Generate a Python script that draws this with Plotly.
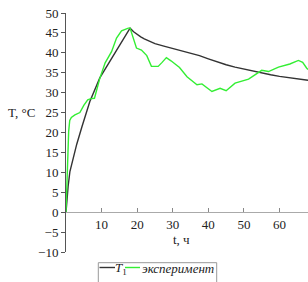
import plotly.graph_objects as go

# Model curve T1
t_model = [0, 0.3, 0.6, 1.1, 2, 3, 4.5, 6.7, 9.5, 13.2, 15.5, 18, 19, 20, 21, 22, 23.5, 25, 27.5, 30, 32.5, 35, 37.5, 40, 42.5, 45, 47.5, 50, 52.5, 55, 57.5, 60, 62.5, 65, 68]
T_model = [0, 3.5, 6.5, 10.2, 13.5, 17, 21.5, 27.8, 33.7, 39.3, 42.7, 46.2, 45.3, 44.6, 44.0, 43.5, 42.9, 42.3, 41.7, 41.1, 40.6, 40.0, 39.3, 38.5, 37.7, 37.0, 36.4, 35.9, 35.4, 34.9, 34.5, 34.1, 33.8, 33.5, 33.1]

# Experiment
t_exp = [0, 0.35, 0.75, 1.05, 1.5, 2.5, 3.9, 5.0, 6.1, 7.0, 8.0, 9.5, 11.0, 12.8, 14.2, 15.6, 16.8, 17.5, 18.0, 19.0, 19.8, 21.2, 22.7, 24.0, 25.9, 27.0, 28.2, 29.5, 31.9, 34.0, 36.8, 38.2, 41.0, 43.3, 45.0, 47.5, 51.3, 55.0, 56.9, 59.7, 62.9, 65.3, 66.5, 67.6, 68]
T_exp = [0, 10, 20.3, 23.0, 23.8, 24.4, 25.0, 26.8, 28.2, 28.5, 28.6, 33.6, 37.5, 40.3, 43.7, 45.5, 46.0, 46.2, 46.2, 43.5, 41.2, 40.7, 39.3, 36.6, 36.6, 37.6, 38.8, 38.0, 36.3, 34.0, 32.0, 32.2, 30.3, 31.1, 30.5, 32.4, 33.4, 35.6, 35.3, 36.4, 37.2, 38.1, 37.6, 36.2, 35.8]

x_ticks = [10, 20, 30, 40, 50, 60]
y_ticks = [-10, -5, 0, 5, 10, 15, 20, 25, 30, 35, 40, 45, 50]

W, H = 308, 282
L, R, T, B = 66, 0, 13, 30
pw, ph = W - L - R, H - T - B

def px(x):
    return (x - L) / pw

def py(y):
    return (H - B - y) / ph

black = "#333333"
green = "#33ee33"
font = "'Liberation Serif', 'Times New Roman', 'DejaVu Serif', serif"

fig = go.Figure()
fig.add_trace(go.Scatter(x=t_model, y=T_model, mode="lines", line=dict(color=black, width=1.4), name="T1", showlegend=False))
fig.add_trace(go.Scatter(x=t_exp, y=T_exp, mode="lines", line=dict(color=green, width=1.4), name="эксперимент", showlegend=False))

fig.update_layout(
    width=W, height=H,
    margin=dict(l=L, r=R, t=T, b=B, pad=0),
    paper_bgcolor="white", plot_bgcolor="white",
    font=dict(family=font, size=13, color="#222"),
    showlegend=False,
    xaxis=dict(range=[0, 68], tickvals=x_ticks, ticks="inside", ticklen=4, tickcolor="#888",
               showline=True, linecolor="#aaaaaa", linewidth=1, showgrid=False, zeroline=False,
               anchor="free", position=1/6, tickfont=dict(family=font, size=13, color="#222")),
    yaxis=dict(range=[-10, 50], tickvals=y_ticks, ticks="outside", ticklen=4, tickcolor="#555",
               showline=True, linecolor="#555555", linewidth=1, showgrid=False, zeroline=False,
               tickfont=dict(family=font, size=13, color="#222")),
)

# axis titles
fig.add_annotation(x=px(6), y=py(112), xref="paper", yref="paper", text="T, °C", showarrow=False,
                   xanchor="left", yanchor="middle", font=dict(family=font, size=13, color="#222"))
fig.add_annotation(x=px(181), y=py(239), xref="paper", yref="paper", text="t, ч", showarrow=False,
                   xanchor="center", yanchor="middle", font=dict(family=font, size=13, color="#222"))

# legend (manual)
fig.add_shape(type="rect", xref="paper", yref="paper", x0=px(98.3), x1=px(216.7), y0=py(262.7), y1=py(292),
              line=dict(color="#999999", width=1), fillcolor="white")
fig.add_shape(type="line", xref="paper", yref="paper", x0=px(99.5), x1=px(115), y0=py(267.5), y1=py(267.5),
              line=dict(color=black, width=1.4))
fig.add_shape(type="line", xref="paper", yref="paper", x0=px(125), x1=px(140), y0=py(267.5), y1=py(267.5),
              line=dict(color=green, width=1.4))
fig.add_annotation(x=px(112.5), y=py(268.5), xref="paper", yref="paper", text="<i>T</i><sub>1</sub>", showarrow=False,
                   xanchor="left", yanchor="middle", font=dict(family=font, size=13, color="#222"))
fig.add_annotation(x=px(139.5), y=py(268), xref="paper", yref="paper", text="<i>эксперимент</i>", showarrow=False,
                   xanchor="left", yanchor="middle", font=dict(family=font, size=13, color="#222"))

fig.write_html("out.html", post_script="document.body.style.margin='0';", config={"displayModeBar": False})
